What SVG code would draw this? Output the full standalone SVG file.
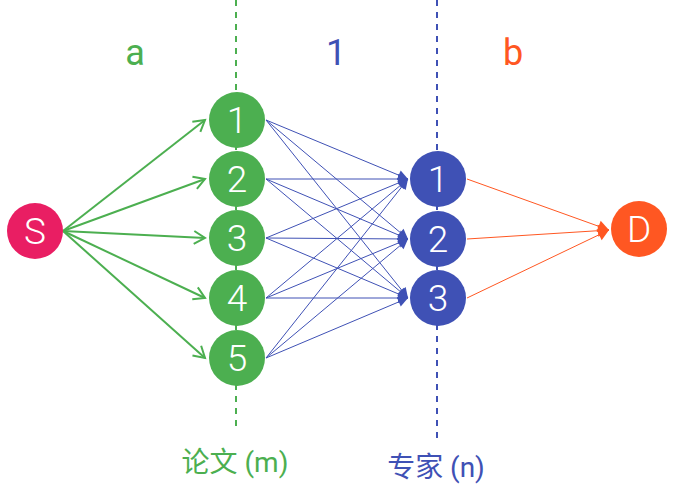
<svg xmlns="http://www.w3.org/2000/svg" width="675" height="501" viewBox="0 0 675 501">
<style>
.lbl{font-family:Roboto,"Noto Sans CJK SC",sans-serif;text-anchor:middle}
.num{font-family:Roboto,sans-serif;font-size:37px;font-weight:300;fill:#fff;text-anchor:middle}
.g{stroke:#4CAF50;stroke-width:2;fill:none}
.b{stroke:#3F51B5;stroke-width:1;fill:none}
.o{stroke:#FF5722;stroke-width:1;fill:none}
</style>
<defs>
<marker id="ag" markerUnits="userSpaceOnUse" markerWidth="30" markerHeight="30" refX="0" refY="0" viewBox="-15 -15 30 30" orient="auto" overflow="visible">
<path d="M-11,-6.5 L0,0 L-11,6.5" fill="none" stroke="#4CAF50" stroke-width="2"/>
</marker>
<marker id="ab" markerUnits="userSpaceOnUse" markerWidth="30" markerHeight="30" refX="0" refY="0" viewBox="-15 -15 30 30" orient="auto" overflow="visible">
<path d="M-10,-5 L0,0 L-10,5 Z" fill="#3F51B5"/>
</marker>
<marker id="ao" markerUnits="userSpaceOnUse" markerWidth="30" markerHeight="30" refX="0" refY="0" viewBox="-15 -15 30 30" orient="auto" overflow="visible">
<path d="M-11,-6 L0,0 L-11,6 Z" fill="#FF5722"/>
</marker>
</defs>
<rect width="675" height="501" fill="#fff"/>
<g id="dividers">
<line x1="236" y1="0" x2="236" y2="430" stroke="#4CAF50" stroke-width="2" stroke-dasharray="6 6"/>
<line x1="437" y1="0" x2="437" y2="442" stroke="#3F51B5" stroke-width="2" stroke-dasharray="6 6"/>
</g>
<g id="labels">
<text class="lbl" x="135" y="65" font-size="36" fill="#4CAF50">a</text>
<text class="lbl" x="336" y="65" font-size="36" fill="#3F51B5">1</text>
<text class="lbl" x="513" y="65" font-size="36" fill="#FF5722">b</text>
<text class="lbl" x="235" y="472" font-size="28" fill="#4CAF50">论文 (m)</text>
<text class="lbl" x="436" y="477" font-size="28" fill="#3F51B5">专家 (n)</text>
</g>
<g id="connectors">
<g class="g" marker-end="url(#ag)">
<line x1="63" y1="231" x2="205" y2="120"/>
<line x1="63" y1="231" x2="205" y2="179"/>
<line x1="63" y1="231" x2="205" y2="238"/>
<line x1="63" y1="231" x2="205" y2="298"/>
<line x1="63" y1="231" x2="205" y2="358"/>
</g>
<g class="b" marker-end="url(#ab)">
<line x1="266" y1="120" x2="408" y2="179"/>
<line x1="266" y1="120" x2="408" y2="239"/>
<line x1="266" y1="120" x2="408" y2="298"/>
<line x1="266" y1="179" x2="408" y2="179"/>
<line x1="266" y1="179" x2="408" y2="239"/>
<line x1="266" y1="179" x2="408" y2="298"/>
<line x1="266" y1="238" x2="408" y2="179"/>
<line x1="266" y1="238" x2="408" y2="239"/>
<line x1="266" y1="238" x2="408" y2="298"/>
<line x1="266" y1="298" x2="408" y2="179"/>
<line x1="266" y1="298" x2="408" y2="239"/>
<line x1="266" y1="298" x2="408" y2="298"/>
<line x1="266" y1="358" x2="408" y2="179"/>
<line x1="266" y1="358" x2="408" y2="239"/>
<line x1="266" y1="358" x2="408" y2="298"/>
</g>
<g class="o" marker-end="url(#ao)">
<line x1="467" y1="179" x2="609" y2="230"/>
<line x1="467" y1="239" x2="609" y2="230"/>
<line x1="467" y1="298" x2="609" y2="230"/>
</g>
</g>
<g id="S"><circle cx="35" cy="231" r="28" fill="#E91E63"/><text class="num" x="35" y="244">S</text></g>
<g id="p1"><circle cx="237" cy="120" r="28" fill="#4CAF50"/><text class="num" x="237" y="133">1</text></g>
<g id="p2"><circle cx="237" cy="179" r="28" fill="#4CAF50"/><text class="num" x="237" y="192">2</text></g>
<g id="p3"><circle cx="237" cy="238" r="28" fill="#4CAF50"/><text class="num" x="237" y="251">3</text></g>
<g id="p4"><circle cx="237" cy="298" r="28" fill="#4CAF50"/><text class="num" x="237" y="311">4</text></g>
<g id="p5"><circle cx="237" cy="358" r="28" fill="#4CAF50"/><text class="num" x="237" y="371">5</text></g>
<g id="e1"><circle cx="438" cy="179" r="28" fill="#3F51B5"/><text class="num" x="438" y="192">1</text></g>
<g id="e2"><circle cx="438" cy="239" r="28" fill="#3F51B5"/><text class="num" x="438" y="252">2</text></g>
<g id="e3"><circle cx="438" cy="298" r="28" fill="#3F51B5"/><text class="num" x="438" y="311">3</text></g>
<g id="D"><circle cx="639" cy="229" r="28" fill="#FF5722"/><text class="num" x="639" y="242">D</text></g>
</svg>
